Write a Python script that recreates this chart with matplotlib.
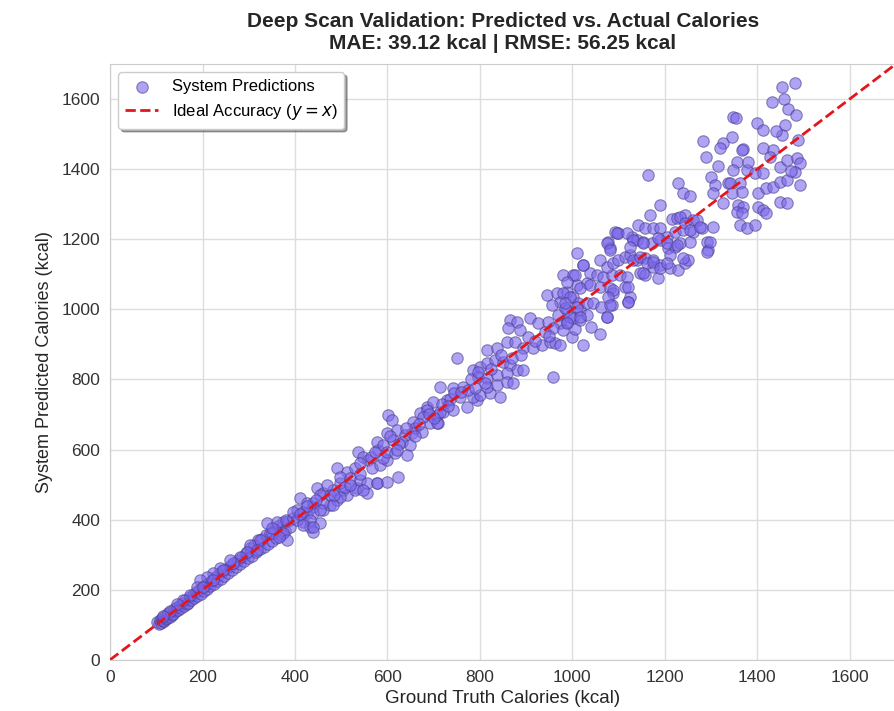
import numpy as np
import matplotlib.pyplot as plt

gt_low = [102, 105, 107, 110, 112, 114, 117, 119, 121, 124, 126, 129, 131, 134, 137,
          139, 142, 145, 148, 151, 154, 157, 160, 163, 166, 169, 172, 176, 179, 182,
          186, 189, 193, 196, 199, 203, 206, 210, 213, 217, 220, 224, 228, 231, 235,
          239, 243, 247, 251, 255, 259, 263, 268, 272, 277, 281, 286, 290, 295, 299]
pred_low = [108, 101, 114, 105, 118, 110, 112, 124, 116, 119, 133, 122, 137, 128, 131,
            146, 138, 150, 142, 157, 147, 163, 153, 170, 160, 162, 179, 171, 185, 176,
            193, 182, 199, 189, 207, 197, 213, 202, 220, 210, 229, 216, 236, 224, 244,
            231, 252, 239, 259, 247, 268, 255, 276, 264, 286, 272, 294, 281, 305, 291]

gt_300 = [303, 307, 311, 316, 320, 324, 328, 333, 337, 341, 346, 350, 355, 360, 364,
          369, 374, 379, 384, 389, 339, 361, 374, 383, 350, 324, 303, 318, 296, 281,
          266, 259, 238, 223, 210, 195, 188, 201, 223, 244, 173, 158, 145, 130, 115,
          350, 365, 380, 395]
pred_300 = [318, 296, 327, 309, 341, 315, 345, 322, 356, 330, 362, 338, 372, 347, 381,
            356, 392, 368, 397, 378, 391, 394, 362, 342, 362, 342, 328, 314, 308, 294,
            277, 285, 262, 248, 237, 228, 208, 208, 228, 257, 185, 170, 160, 140, 126,
            375, 350, 400, 405]

gt_400 = [404, 426, 439, 461, 417, 432, 439, 454, 476, 491, 504, 534, 556, 577, 497,
          512, 448, 461, 476, 497, 411, 426, 439, 461, 482, 396, 417, 439, 404, 432,
          417, 439, 454, 491, 512, 530, 497, 519, 541, 556, 577, 599, 508, 530, 482,
          547, 536, 547, 558, 541, 566, 584, 599, 623, 470, 485, 520, 540, 565, 580,
          590, 455, 445, 425, 410]
pred_400 = [428, 419, 436, 428, 394, 379, 365, 391, 442, 456, 485, 491, 476, 505, 505,
            471, 491, 476, 471, 465, 462, 448, 448, 448, 442, 422, 422, 419, 399, 399,
            385, 379, 428, 548, 536, 548, 522, 519, 513, 505, 505, 508, 493, 485, 485,
            485, 593, 579, 570, 562, 548, 556, 570, 522, 500, 470, 500, 530, 580, 600,
            575, 470, 455, 440, 415]

gt_600 = [601, 610, 599, 621, 638, 653, 612, 631, 649, 577, 590, 573, 599, 616, 642,
          655, 692, 709, 670, 685, 698, 707, 720, 729, 714, 742, 757, 685, 772, 794,
          707, 677, 714, 742, 763, 785, 800, 822, 843, 750, 660, 675, 735, 775, 605,
          625, 640, 660, 668, 690, 700, 718, 730, 745, 760, 620]
pred_600 = [699, 685, 647, 656, 642, 647, 627, 622, 613, 622, 613, 593, 593, 590, 585,
            679, 676, 676, 704, 722, 736, 699, 707, 742, 707, 713, 750, 713, 722, 742,
            676, 693, 779, 776, 779, 750, 756, 761, 750, 861, 660, 650, 745, 770, 640,
            615, 660, 640, 672, 700, 690, 730, 725, 760, 765, 600]

gt_800 = [785, 800, 815, 832, 850, 865, 880, 893, 796, 815, 837, 858, 789, 815, 837,
          858, 871, 815, 837, 858, 876, 893, 915, 934, 951, 962, 973, 865, 880, 908,
          861, 886, 925, 947, 973, 988, 1001, 1016, 958, 980, 999, 1023, 958, 945, 966,
          988, 1001, 1012, 973, 956, 988, 1016, 1031, 980, 1001, 1010, 1031, 1023,
          1005, 1040, 1060, 780, 795, 810, 825, 845, 870, 890, 905, 920, 940, 950, 970,
          985]
pred_800 = [827, 836, 847, 856, 850, 841, 827, 827, 807, 804, 813, 819, 776, 779, 784,
            793, 790, 884, 890, 907, 907, 890, 890, 898, 907, 904, 898, 970, 964, 975,
            947, 941, 961, 964, 961, 964, 975, 970, 947, 941, 921, 898, 807, 1041, 1047,
            1050, 1035, 1018, 1021, 1013, 998, 998, 984, 1098, 1098, 1070, 1075, 1127,
            945, 950, 930, 800, 820, 790, 830, 870, 860, 870, 920, 910, 935, 925, 985,
            1005]

gt_1000 = [1005, 988, 1038, 1053, 1066, 1085, 1103, 1118, 1146, 1157, 1185, 980, 995,
           1016, 1038, 1059, 1081, 1088, 1114, 1124, 984, 1010, 1031, 1044, 1063, 1085,
           1120, 995, 1016, 1075, 988, 1010, 1023, 1059, 1075, 1088, 1099, 1114, 1124,
           1139, 1157, 1174, 1189, 1174, 1211, 1228, 1243, 1250, 1239]
pred_1000 = [1098, 1078, 1104, 1098, 1092, 1098, 1098, 1092, 1104, 1098, 1090, 1047, 1035,
             1061, 1070, 1064, 1061, 1047, 1064, 1035, 1018, 1007, 1018, 1018, 1007, 1013,
             1021, 978, 978, 978, 961, 1161, 1127, 1141, 1121, 1132, 1141, 1149, 1155,
             1141, 1147, 1141, 1127, 1121, 1118, 1112, 1132, 1141, 1147]

gt_1100 = [1092, 1099, 1077, 1081, 1129, 1139, 1152, 1172, 1189, 1204, 1222, 1239, 1260,
           1280, 1291, 1293, 1206, 1222, 1233, 1254, 1142, 1157, 1174, 1189, 1215, 1226,
           1243, 1260, 1163, 1228, 1239, 1254, 1189, 1168, 1096, 1075, 1081, 1118, 1131,
           1124, 1152, 1185, 1204, 1226, 1211, 1131, 1146, 1161, 1174, 1189, 1204, 1152,
           1120, 1088, 1077, 1081, 1075, 1120]
pred_1100 = [1221, 1218, 1192, 1175, 1206, 1198, 1192, 1189, 1198, 1206, 1221, 1226, 1221,
             1232, 1192, 1169, 1175, 1178, 1189, 1192, 1241, 1232, 1232, 1232, 1258, 1261,
             1269, 1255, 1383, 1360, 1332, 1323, 1298, 1269, 1218, 1189, 1169, 1218, 1198,
             1178, 1189, 1204, 1189, 1184, 1155, 1141, 1149, 1132, 1135, 1118, 1132, 1104,
             1064, 1055, 1035, 1013, 978, 1021]

gt_1300 = [1481, 1453, 1433, 1457, 1466, 1483, 1347, 1355, 1399, 1412, 1461, 1282, 1325,
           1345, 1319, 1369, 1289, 1412, 1434, 1453, 1488, 1315, 1356, 1377, 1347, 1336,
           1362, 1427, 1449, 1464, 1486, 1492, 1481, 1492, 1395, 1412, 1301, 1308, 1304,
           1341, 1345, 1366, 1401, 1420, 1434, 1449, 1464, 1325, 1358, 1369, 1356, 1366,
           1401, 1412, 1420, 1449, 1464, 1362, 1377, 1395, 1232, 1269, 1243, 1254, 1276,
           1304, 1297, 1291, 1366, 1381, 1440, 1473]
pred_1300 = [1646, 1634, 1592, 1600, 1572, 1554, 1549, 1545, 1531, 1512, 1526, 1480, 1475,
             1492, 1460, 1457, 1435, 1460, 1455, 1497, 1483, 1409, 1420, 1398, 1398, 1361,
             1361, 1435, 1406, 1426, 1432, 1418, 1392, 1355, 1389, 1389, 1378, 1355, 1332,
             1361, 1332, 1335, 1332, 1346, 1349, 1363, 1369, 1303, 1298, 1292, 1278, 1275,
             1292, 1283, 1275, 1306, 1303, 1241, 1232, 1241, 1264, 1255, 1246, 1226, 1235,
             1235, 1192, 1164, 1455, 1420, 1510, 1395]

ground_truth = np.array(gt_low + gt_300 + gt_400 + gt_600 + gt_800 + gt_1000 + gt_1100 + gt_1300)
predicted = np.array(pred_low + pred_300 + pred_400 + pred_600 + pred_800 + pred_1000 + pred_1100 + pred_1300)

title = "Deep Scan Validation: Predicted vs. Actual Calories\nMAE: 39.12 kcal | RMSE: 56.25 kcal"

plt.rcParams['font.family'] = ['Liberation Sans', 'DejaVu Sans']

fig = plt.figure(figsize=(8.95, 7.11), dpi=100)
ax = fig.add_axes([0.123, 0.072, 0.878, 0.838])
ax.set_facecolor('white')

ax.scatter(ground_truth, predicted, s=68, color='mediumslateblue', alpha=0.6,
           edgecolors='darkslateblue', linewidths=0.8, label='System Predictions', zorder=3)
ax.plot([0, 1700], [0, 1700], '--', color='#e4161c', lw=2, label='Ideal Accuracy ($y = x$)', zorder=4)

ax.set_xlim(0, 1700)
ax.set_ylim(0, 1700)
ax.set_xticks(range(0, 1700, 200))
ax.set_yticks(range(0, 1700, 200))
ax.grid(True, color='#dddddd', lw=1)
ax.set_axisbelow(True)
for s in ax.spines.values():
    s.set_color('#cccccc')
ax.tick_params(length=0, labelsize=12.5, colors='#333333', pad=7)

ax.set_xlabel('Ground Truth Calories (kcal)', fontsize=13.5, color='#262626', labelpad=4)
ax.set_ylabel('System Predicted Calories (kcal)', fontsize=13, color='#262626', labelpad=6)
ax.set_title(title, fontsize=15, fontweight='bold', color='#262626', pad=11)

leg = ax.legend(loc='upper left', fontsize=12, frameon=True, shadow=True, fancybox=True,
                borderpad=0.4, handlelength=2)
leg.get_frame().set_edgecolor('#cccccc')

fig.savefig('out.png', dpi=100)
